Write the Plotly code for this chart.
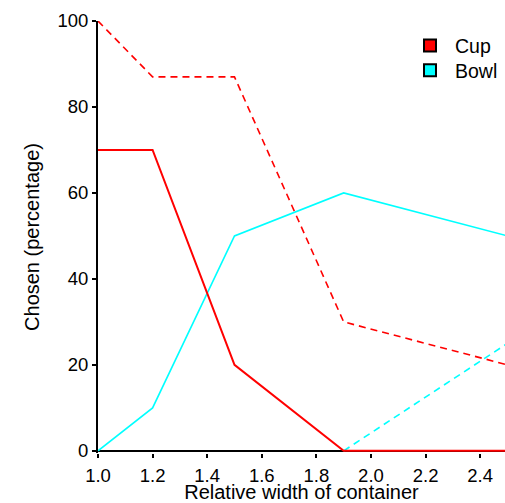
import plotly.graph_objects as go

widths = [1.0, 1.2, 1.5, 1.9, 2.5]
cup_solid = [70, 70, 20, 0, 0]
cup_dashed = [100, 87, 87, 30, 20]
bowl_solid = [0, 10, 50, 60, 50]
bowl_dashed_x = [1.9, 2.5]
bowl_dashed = [0, 25]

RED = "#ff0000"
CYAN = "#00ffff"

fig = go.Figure()
fig.add_trace(go.Scatter(x=widths, y=cup_dashed, mode="lines",
                         line=dict(color=RED, width=1.6, dash="7px,5px"), showlegend=False))
fig.add_trace(go.Scatter(x=bowl_dashed_x, y=bowl_dashed, mode="lines",
                         line=dict(color=CYAN, width=1.6, dash="7px,5px"), showlegend=False))
fig.add_trace(go.Scatter(x=widths, y=bowl_solid, mode="lines",
                         line=dict(color=CYAN, width=1.6), showlegend=False))
fig.add_trace(go.Scatter(x=widths, y=cup_solid, mode="lines",
                         line=dict(color=RED, width=2), showlegend=False))
# legend entries (one legend per row for exact placement)
for name, col, lg in [("Cup", RED, "legend"), ("Bowl", CYAN, "legend2")]:
    fig.add_trace(go.Scatter(x=[None], y=[None], mode="markers", name=name, legend=lg,
                             marker=dict(symbol="square", size=14, color=col,
                                         line=dict(color="black", width=2))))

plot_top, plot_bottom = 21, 457
plot_h = plot_bottom - plot_top
lx = (405 - 98) / (505 - 98)
common_legend = dict(x=lx, xanchor="left", yanchor="middle",
                     bgcolor="rgba(0,0,0,0)", font=dict(size=19.5),
                     itemwidth=40, itemsizing="constant")

fig.update_layout(
    width=505, height=503,
    margin=dict(l=98, r=0, t=plot_top, b=503 - plot_bottom),
    paper_bgcolor="white", plot_bgcolor="white",
    font=dict(family="Liberation Sans, Arial, sans-serif", size=18.5, color="black"),
    legend=dict(y=(plot_bottom - 46) / plot_h, **common_legend),
    legend2=dict(y=(plot_bottom - 71) / plot_h, **common_legend),
    xaxis=dict(range=[1.0, 2.491], tick0=1.0, dtick=0.2, tickformat=".1f",
               showgrid=False, showline=False,
               zeroline=False, ticks="outside", ticklen=4, tickwidth=1.5,
               tickcolor="black", ticklabelstandoff=2,
               title=dict(text="Relative width of container", standoff=3,
                          font=dict(size=20))),
    yaxis=dict(range=[-0.5, 100], tick0=0, dtick=20,
               showgrid=False, showline=True, linecolor="black", linewidth=2,
               zeroline=True, zerolinecolor="black", zerolinewidth=2,
               ticks="outside", ticklen=4, tickwidth=1.5, tickcolor="black",
               layer="below traces",
               title=dict(text="Chosen (percentage)", standoff=12,
                          font=dict(size=20))),
)

fig.write_html("out.html", config={"displayModeBar": False},
               post_script="document.body.style.margin='0px';")
